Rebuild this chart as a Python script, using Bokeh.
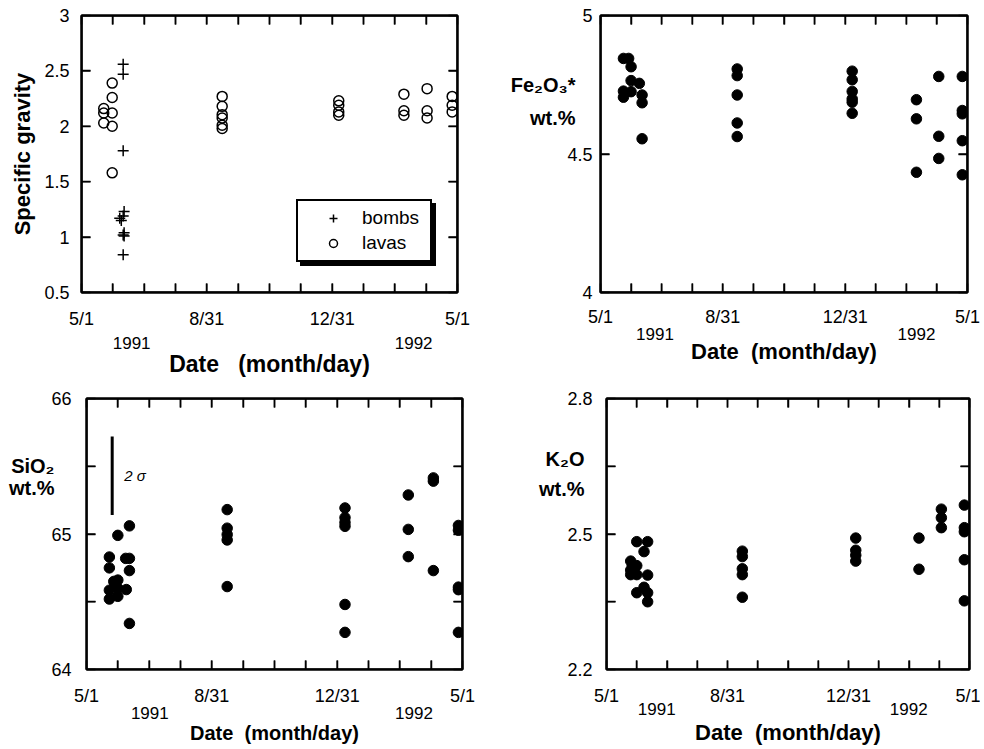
import math
from bokeh.plotting import figure
from bokeh.models import LinearAxis, FixedTicker, Range1d, Legend, LegendItem, Label, BoxAnnotation
from bokeh.layouts import column, row
from bokeh.embed import file_html
from bokeh.resources import INLINE

FONT = "Liberation Sans"

# x = months after 1 May 1991
month_ticks = list(range(13))
month_labels = {0: "5/1", 4: "8/31", 8: "12/31", 12: "5/1"}
year_labels = ["1991", "1992"]

# ---- Specific gravity ----
bomb_x = [1.33, 1.33, 1.33, 1.36, 1.33, 1.22, 1.27, 1.36, 1.33, 1.36, 1.33]
bomb_sg = [2.56, 2.47, 1.78, 1.23, 1.19, 1.17, 1.15, 1.04, 1.02, 1.01, 0.84]
lava_x = [0.71, 0.71, 0.71, 0.98, 0.98, 0.98, 0.98, 0.98,
          4.49, 4.49, 4.49, 4.49, 4.49, 4.49,
          8.21, 8.21, 8.21, 8.21,
          10.29, 10.29, 10.29,
          11.03, 11.03, 11.03,
          11.83, 11.83, 11.83]
lava_sg = [2.16, 2.12, 2.03, 2.39, 2.26, 2.12, 2.00, 1.58,
           2.27, 2.18, 2.105, 2.075, 2.01, 1.98,
           2.23, 2.19, 2.13, 2.10,
           2.29, 2.14, 2.10,
           2.34, 2.14, 2.075,
           2.27, 2.19, 2.13]

# ---- Fe2O3* ----
fe_x = [0.75, 0.92, 1.0, 1.0, 1.27, 0.75, 0.75, 1.0, 1.36, 1.36, 1.36,
        4.47, 4.47, 4.47, 4.47, 4.47,
        8.23, 8.23, 8.23, 8.23, 8.23, 8.23,
        10.33, 10.33, 10.33,
        11.06, 11.06, 11.06,
        11.83, 11.83, 11.83, 11.83, 11.83]
fe = [4.845, 4.845, 4.815, 4.765, 4.755, 4.727, 4.705, 4.725, 4.713, 4.685, 4.555,
      4.807, 4.783, 4.713, 4.612, 4.563,
      4.799, 4.768, 4.726, 4.699, 4.687, 4.647,
      4.696, 4.627, 4.434,
      4.78, 4.564, 4.484,
      4.78, 4.657, 4.645, 4.548, 4.425]

# ---- SiO2 ----
si_x = [0.73, 0.73, 0.73, 0.73, 0.87, 1.0, 1.0, 1.0, 1.0, 1.27,
        1.37, 1.37, 1.25, 1.37, 1.37,
        4.49, 4.49, 4.49, 4.49, 4.49,
        8.25, 8.25, 8.25, 8.25, 8.25, 8.25,
        10.27, 10.27, 10.27,
        11.07, 11.07, 11.07,
        11.87, 11.87, 11.87, 11.87, 11.87]
si = [64.83, 64.75, 64.585, 64.52, 64.65, 64.99, 64.66, 64.60, 64.54, 64.59,
      65.06, 64.82, 64.82, 64.73, 64.34,
      65.18, 65.043, 64.996, 64.956, 64.612,
      65.192, 65.121, 65.085, 65.057, 64.48, 64.274,
      65.288, 65.034, 64.833,
      65.414, 65.39, 64.73,
      65.063, 65.028, 64.608, 64.589, 64.274]
sigma_x = 0.82
sigma_lo = 65.14
sigma_hi = 65.72

# ---- K2O ----
k_x = [0.8, 0.85, 0.8, 0.8, 1.0, 1.0, 0.9,
       1.0, 1.36, 1.24, 1.36, 1.24, 1.0, 1.36, 1.36,
       4.49, 4.49, 4.49, 4.49, 4.49,
       8.24, 8.24, 8.24, 8.24,
       10.33, 10.33,
       11.07, 11.07, 11.07,
       11.83, 11.83, 11.83, 11.83, 11.83]
k = [2.44, 2.43, 2.42, 2.41, 2.43, 2.41, 2.425,
     2.483, 2.483, 2.461, 2.409, 2.382, 2.37, 2.37, 2.35,
     2.462, 2.45, 2.423, 2.41, 2.36,
     2.491, 2.464, 2.453, 2.44,
     2.491, 2.422,
     2.555, 2.536, 2.514,
     2.564, 2.514, 2.505, 2.443, 2.352]

TICK_LEN = 9
TICK_FONT = "18px"
YEAR_FONT = "17px"


def style_axis(ax, ticks, labels, standoff, font_size=TICK_FONT):
    ax.ticker = FixedTicker(ticks=ticks, minor_ticks=[])
    ax.major_label_overrides = labels
    ax.major_label_text_font = FONT
    ax.major_label_text_font_size = font_size
    ax.major_label_text_color = "black"
    ax.major_label_standoff = standoff
    ax.axis_line_color = "black"
    ax.axis_line_width = 2
    ax.major_tick_line_color = "black"
    ax.major_tick_line_width = 1.5
    ax.major_tick_in = TICK_LEN
    ax.major_tick_out = 0
    ax.minor_tick_line_color = None


def add_frame_ticks(p, xr, yr, xticks, yticks):
    """Frame box and inward ticks on all four sides, taken from the tick lists."""
    p.add_layout(BoxAnnotation(fill_color=None, fill_alpha=0, line_color="black",
                               line_width=2, line_alpha=1))
    xs = [t for t in xticks if xr[0] < t < xr[1]]
    ys = [t for t in yticks if yr[0] < t < yr[1]]
    kw = dict(length=TICK_LEN, length_units="screen", line_color="black", line_width=1.5)
    p.ray(x=xs, y=[yr[0]] * len(xs), angle=math.pi / 2, **kw)
    p.ray(x=xs, y=[yr[1]] * len(xs), angle=-math.pi / 2, **kw)
    p.ray(x=[xr[0]] * len(ys), y=ys, angle=0, **kw)
    p.ray(x=[xr[1]] * len(ys), y=ys, angle=math.pi, **kw)


def make_fig(width, height, borders, yr, yticks, ylabels, year_pos, date_text, date_font,
             stand, side_ticks=None, side_labels=None, side_standoff=0):
    left, right, top, bottom = borders
    m_st, y_st, d_st, l_st = stand
    xr = (0, 12)
    p = figure(width=width, height=height, x_range=Range1d(*xr), y_range=Range1d(*yr),
               output_backend="svg", toolbar_location=None, tools="",
               min_border_left=left, min_border_right=right,
               min_border_top=top, min_border_bottom=bottom)
    p.grid.visible = False
    p.outline_line_color = "black"
    p.outline_line_width = 2
    p.outline_line_alpha = 1
    p.background_fill_color = "white"
    p.border_fill_color = "white"

    style_axis(p.xaxis[0], month_ticks, {t: month_labels.get(t, "") for t in month_ticks}, m_st)
    xyr = LinearAxis(ticker=FixedTicker(ticks=year_pos, minor_ticks=[]),
                     major_label_overrides={pos: lab for pos, lab in zip(year_pos, year_labels)},
                     axis_line_color=None, major_tick_line_color=None,
                     minor_tick_line_color=None, major_label_standoff=y_st,
                     major_label_text_font=FONT, major_label_text_font_size=YEAR_FONT,
                     major_label_text_color="black",
                     axis_label=date_text, axis_label_standoff=d_st,
                     axis_label_text_font=FONT, axis_label_text_font_style="bold",
                     axis_label_text_font_size=date_font, axis_label_text_color="black")
    p.add_layout(xyr, "below")
    xt = LinearAxis()
    style_axis(xt, month_ticks, {t: "" for t in month_ticks}, 0, "1px")
    p.add_layout(xt, "above")

    yl = p.yaxis[0]
    style_axis(yl, yticks, ylabels, l_st)
    if side_ticks is not None:
        ys = LinearAxis(ticker=FixedTicker(ticks=side_ticks, minor_ticks=[]),
                        major_label_overrides={t: s for t, s in zip(side_ticks, side_labels)},
                        axis_line_color=None, major_tick_line_color=None,
                        minor_tick_line_color=None, major_label_standoff=side_standoff,
                        major_label_text_font=FONT, major_label_text_font_style="bold",
                        major_label_text_font_size="20px", major_label_text_color="black")
        p.add_layout(ys, "left")
    yrax = LinearAxis()
    style_axis(yrax, yticks, {t: "" for t in yticks}, 0, "1px")
    p.add_layout(yrax, "right")

    add_frame_ticks(p, xr, yr, month_ticks, yticks)
    return p, yl


DATE2 = "Date\u00a0\u00a0(month/day)"
DATE3 = "Date\u00a0\u00a0\u00a0(month/day)"
FILLED = dict(marker="circle", size=10.5, fill_color="black", line_color="black")

# ---------- panel 1 ----------
p1, y1 = make_fig(496, 379, (81, 39, 15, 82), (0.5, 3), [0.5, 1, 1.5, 2, 2.5, 3],
                  {0.5: "0.5", 1: "1", 1.5: "1.5", 2: "2", 2.5: "2.5", 3: "3"},
                  [1.6, 10.6], DATE3, "23px", (16, -1, -1, 12))
y1.axis_label = "Specific gravity"
y1.axis_label_standoff = 6
y1.axis_label_text_font = FONT
y1.axis_label_text_font_style = "bold"
y1.axis_label_text_font_size = "22px"
y1.axis_label_text_color = "black"
rb = p1.scatter(bomb_x, bomb_sg, marker="cross", size=11, line_color="black", line_width=1.5)
rl = p1.scatter(lava_x, lava_sg, marker="circle", size=10, fill_color=None,
                line_color="black", line_width=1.5)
leg_style = dict(padding=6, margin=0, glyph_width=58, glyph_height=20, label_standoff=0,
                 label_width=62, label_height=20, spacing=3,
                 label_text_font=FONT, label_text_font_size="19px",
                 border_line_color="black", border_line_width=2, border_line_alpha=1)
# drop shadow of the legend box (blank labels, black fill, offset)
shadow = Legend(items=[LegendItem(label="\u00a0", renderers=[rb]),
                       LegendItem(label="\u00a0\u00a0", renderers=[rl])],
                location=(219, 26), label_text_alpha=0,
                background_fill_color="black", background_fill_alpha=1, **leg_style)
p1.add_layout(shadow)
leg = Legend(items=[LegendItem(label="bombs", renderers=[rb]),
                    LegendItem(label="lavas", renderers=[rl])],
             location=(215, 30), label_text_color="black",
             background_fill_color="white", background_fill_alpha=1, **leg_style)
p1.add_layout(leg)

# ---------- panel 2 ----------
p2, y2 = make_fig(484, 379, (104, 13, 15, 84), (4, 5), [4, 4.5, 5],
                  {4: "4", 4.5: "4.5", 5: "5"}, [1.78, 10.33], DATE2, "22px",
                  (14, -8, -4, 8), [4.75, 4.63], ["Fe\u2082O\u2083*", "wt.%"], -17)
p2.scatter(fe_x, fe, **FILLED)

# ---------- panel 3 ----------
p3, y3 = make_fig(496, 368, (86, 34, 16, 76), (64, 66), [64, 64.5, 65, 65.5, 66],
                  {64: "64", 64.5: "", 65: "65", 65.5: "", 66: "66"},
                  [2.02, 10.45], DATE2, "20px", (16, -8, 0, 15), [65.50, 65.34],
                  ["SiO\u2082", "wt.%"], -12)
p3.scatter(si_x, si, **FILLED)
p3.segment(x0=[sigma_x], y0=[sigma_lo], x1=[sigma_x], y1=[sigma_hi],
           line_color="black", line_width=3)
p3.add_layout(Label(x=1.55, y=(sigma_lo + sigma_hi) / 2, text="2\u00a0\u03c3", text_font=FONT,
                    text_font_style="italic", text_font_size="15px",
                    text_align="center", text_baseline="middle", text_color="black"))

# ---------- panel 4 ----------
p4, y4 = make_fig(484, 368, (110, 11, 19, 77), (2.2, 2.8), [2.2, 2.35, 2.5, 2.65, 2.8],
                  {2.2: "2.2", 2.35: "", 2.5: "2.5", 2.65: "", 2.8: "2.8"},
                  [1.66, 9.99], DATE2, "22px", (16, -12, 2, 14), [2.665, 2.60],
                  ["K\u2082O", "wt.%"], -26)
p4.scatter(k_x, k, **FILLED)

layout = column(row(p1, p2), row(p3, p4))
open("out.html", "w").write(file_html(layout, INLINE))
